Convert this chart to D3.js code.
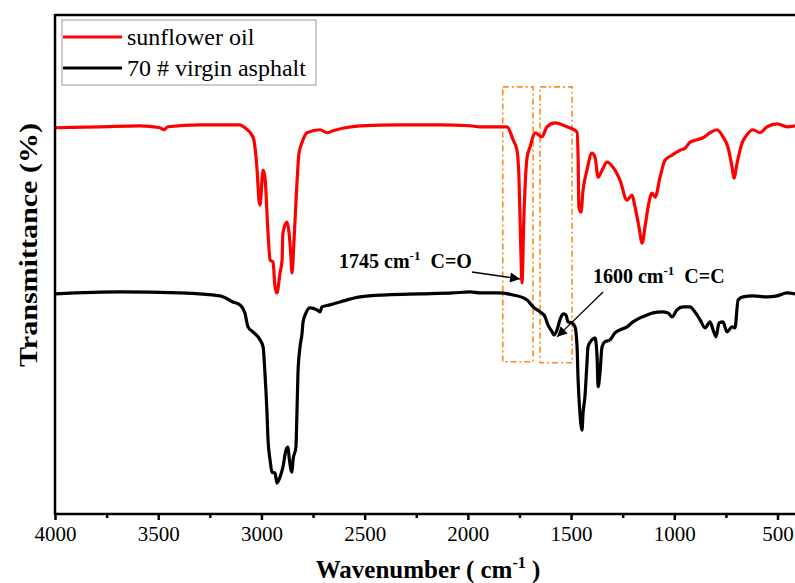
<!DOCTYPE html>
<html><head><meta charset="utf-8">
<script src="https://cdnjs.cloudflare.com/ajax/libs/d3/7.8.5/d3.min.js"></script>
</head><body style="margin:0"><svg id="c" width="795" height="583" font-family="Liberation Serif"></svg>
<script>
const seriesNames = ["sunflower oil", "70 # virgin asphalt"];
const seriesColors = ["#ff0000", "#000000"];
const oilWave = [4000,3782,3588,3491,3472,3453,3298,3104,3080,3041,3021,3012,3007,2992,2983,2968,2958,2944,2934,2925,2910,2900,2896,2876,2866,2857,2852,2842,2828,2818,2803,2779,2716,2682,2653,2595,2522,2329,2135,1990,1941,1810,1781,1762,1752,1743,1738,1728,1713,1699,1675,1641,1617,1578,1520,1471,1466,1462,1452,1442,1423,1399,1384,1369,1350,1326,1297,1263,1229,1205,1190,1171,1156,1142,1127,1108,1093,1069,1045,1011,972,948,924,890,861,827,793,764,740,720,711,696,672,648,619,585,551,502,454,415];
const oilT = [77.4,77.6,77.8,77.4,77.0,77.6,78.0,78.0,77.4,75.6,68.9,62.9,61.9,68.9,67.5,56.3,50.9,50.5,45.5,44.3,48.3,50.9,56.3,58.5,56.3,51.5,48.3,54.9,66.3,72.3,74.5,76.4,77.0,76.4,76.8,77.4,77.8,78.0,78.0,77.8,77.6,77.6,75.0,72.9,66.9,52.3,46.3,60.3,71.5,73.5,76.4,75.6,77.6,78.4,77.6,76.6,71.5,61.5,60.5,64.9,68.9,72.3,71.5,67.5,68.9,70.5,69.5,66.9,62.9,63.9,61.5,57.5,54.3,57.5,61.5,64.3,63.5,67.5,70.9,71.9,72.9,73.3,74.5,75.0,75.4,76.4,77.0,75.6,73.5,69.5,67.3,70.3,74.3,76.0,77.0,76.4,77.6,78.2,77.6,77.8];
const asphaltWave = [4000,3685,3394,3201,3138,3104,3080,3065,3041,3007,2992,2983,2973,2968,2958,2949,2934,2925,2910,2896,2881,2871,2866,2852,2847,2833,2828,2823,2813,2803,2799,2784,2765,2731,2716,2707,2668,2619,2522,2392,2232,2072,1990,1941,1859,1781,1713,1684,1650,1626,1612,1592,1583,1568,1554,1539,1525,1515,1496,1481,1471,1466,1457,1447,1442,1433,1423,1418,1399,1384,1374,1369,1360,1350,1336,1311,1287,1263,1229,1200,1166,1132,1103,1060,1030,1011,987,958,924,900,875,851,827,812,798,783,764,745,720,706,691,667,619,551,502,454,415];
const asphaltT = [44.1,44.5,44.3,43.7,42.5,41.9,40.3,37.5,36.5,34.9,33.5,28.3,20.2,14.8,10.8,8.4,8.2,6.2,7.4,9.4,12.8,13.4,11.4,8.4,10.8,13.4,20.2,28.3,33.5,36.3,38.3,40.3,41.3,40.9,40.5,41.5,41.9,42.5,43.5,43.9,44.1,44.3,44.5,44.3,44.3,43.9,42.9,41.5,40.5,39.5,37.9,36.5,35.9,36.9,38.9,40.1,39.9,38.5,38.3,37.5,33.5,26.9,20.2,16.8,20.2,23.4,30.3,33.5,34.9,35.3,31.5,25.5,28.3,33.5,34.5,34.9,36.3,36.9,37.5,38.5,39.3,39.9,40.3,40.5,40.3,39.5,40.9,41.5,41.5,40.5,38.9,37.3,38.5,36.9,35.5,38.3,38.5,36.5,37.5,37.3,42.9,43.5,43.7,43.5,43.7,44.3,44.1];
const majorTicks = [4000,3500,3000,2500,2000,1500,1000,500];
const minorTicks = [3750,3250,2750,2250,1750,1250,750];
const boxes = [{w0:1831,w1:1684,t0:85.6,t1:30.5},{w0:1650,w1:1495,t0:85.6,t1:30.3}];
const notes = [
  {num:"1745", bond:"C=O", w:2624, t:49.3, from:[1980,48.5], to:[1747,47.1]},
  {num:"1600", bond:"C=C", w:1394, t:46.3, from:[1345,44.5], to:[1568,35.5]}
];

const FF = "Liberation Serif";
const svg = d3.select("#c");
const L = 55, T = 15, B = 514;
const x = d3.scaleLinear().domain([4000, 400]).range([L, L + 3600*0.20643]);
const y = d3.scaleLinear().domain([0, 100]).range([B, T]);

svg.append("defs").append("marker").attr("id","ah").attr("viewBox","0 0 10 10")
  .attr("refX",10).attr("refY",5).attr("markerWidth",14).attr("markerHeight",10)
  .attr("orient","auto").attr("markerUnits","userSpaceOnUse")
  .append("path").attr("d","M0,0L10,5L0,10z").attr("fill","#000");

// orange boxes
svg.selectAll("rect.box").data(boxes).enter().append("rect")
  .attr("x", d => x(d.w0)).attr("y", d => y(d.t0))
  .attr("width", d => x(d.w1) - x(d.w0)).attr("height", d => y(d.t1) - y(d.t0))
  .attr("fill","none").attr("stroke","#ff8a1c").attr("stroke-width",1.6)
  .attr("stroke-dasharray","6,3,2,3");

const line = d3.line().x(d => x(d[0])).y(d => y(d[1])).curve(d3.curveMonotoneX);
const s1 = oilWave.map((w,i) => [w, oilT[i]]);
const s2 = asphaltWave.map((w,i) => [w, asphaltT[i]]);
[s1, s2].forEach((s,i) => {
  svg.append("path").datum(s).attr("d", line).attr("fill","none")
    .attr("stroke", seriesColors[i]).attr("stroke-width", 3.2).attr("stroke-linejoin","round");
});

// frame
svg.append("line").attr("x1",L).attr("x2",800).attr("y1",T).attr("y2",T).attr("stroke","#000").attr("stroke-width",2.5);
svg.append("line").attr("x1",L).attr("x2",L).attr("y1",T-1).attr("y2",B+1).attr("stroke","#000").attr("stroke-width",2.5);

const ax = svg.append("g").attr("transform",`translate(0,${B})`)
  .call(d3.axisBottom(x).tickValues(majorTicks).tickSize(6).tickSizeOuter(0).tickPadding(5).tickFormat(d3.format("d")));
ax.attr("font-family", FF).attr("font-size", 21);
ax.select(".domain").attr("stroke-width",2.5).attr("d",`M${L},0H800`);
ax.selectAll(".tick line").attr("stroke-width",2.5);
ax.selectAll(".tick text").style("font-family",FF).attr("fill","#000").attr("dy","0.78em");
const mn = svg.append("g").attr("transform",`translate(0,${B})`)
  .call(d3.axisBottom(x).tickValues(minorTicks).tickSize(4).tickFormat(""));
mn.select(".domain").remove();
mn.selectAll(".tick line").attr("stroke-width",2.5);

// axis titles
const xt = svg.append("text").attr("x",428).attr("y",578).attr("text-anchor","middle")
  .style("font-family",FF).attr("font-size",25).attr("font-weight","bold");
xt.append("tspan").text("Wavenumber ( cm");
xt.append("tspan").attr("dy",-10).attr("font-size",16).text("-1");
xt.append("tspan").attr("dy",10).text(" )");
svg.append("text").attr("transform","translate(37,245) rotate(-90)").attr("text-anchor","middle")
  .style("font-family",FF).attr("font-size",26).attr("font-weight","bold")
  .attr("textLength",244).attr("lengthAdjust","spacingAndGlyphs").text("Transmittance (%)");

// legend
svg.append("rect").attr("x",62).attr("y",20).attr("width",254).attr("height",65)
  .attr("fill","#fff").attr("stroke","#999").attr("stroke-width",1);
seriesNames.forEach((n,i) => {
  const yy = 37 + i*31;
  svg.append("line").attr("x1",63).attr("x2",122).attr("y1",yy).attr("y2",yy)
    .attr("stroke",seriesColors[i]).attr("stroke-width",3);
  svg.append("text").attr("x",127).attr("y",yy+8).attr("font-size",24).style("font-family",FF).text(n);
});

// annotations
notes.forEach(n => {
  const t = svg.append("text").attr("x", x(n.w)).attr("y", y(n.t)).style("font-family",FF)
    .attr("font-size",20).attr("font-weight","bold");
  t.append("tspan").text(n.num + " cm");
  t.append("tspan").attr("dy",-8).attr("font-size",13).text("-1");
  t.append("tspan").attr("dy",8).attr("dx",10).text(n.bond);
  svg.append("line").attr("x1",x(n.from[0])).attr("y1",y(n.from[1]))
    .attr("x2",x(n.to[0])).attr("y2",y(n.to[1])).attr("stroke","#000").attr("stroke-width",1.3)
    .attr("marker-end","url(#ah)");
});
</script></body></html>
